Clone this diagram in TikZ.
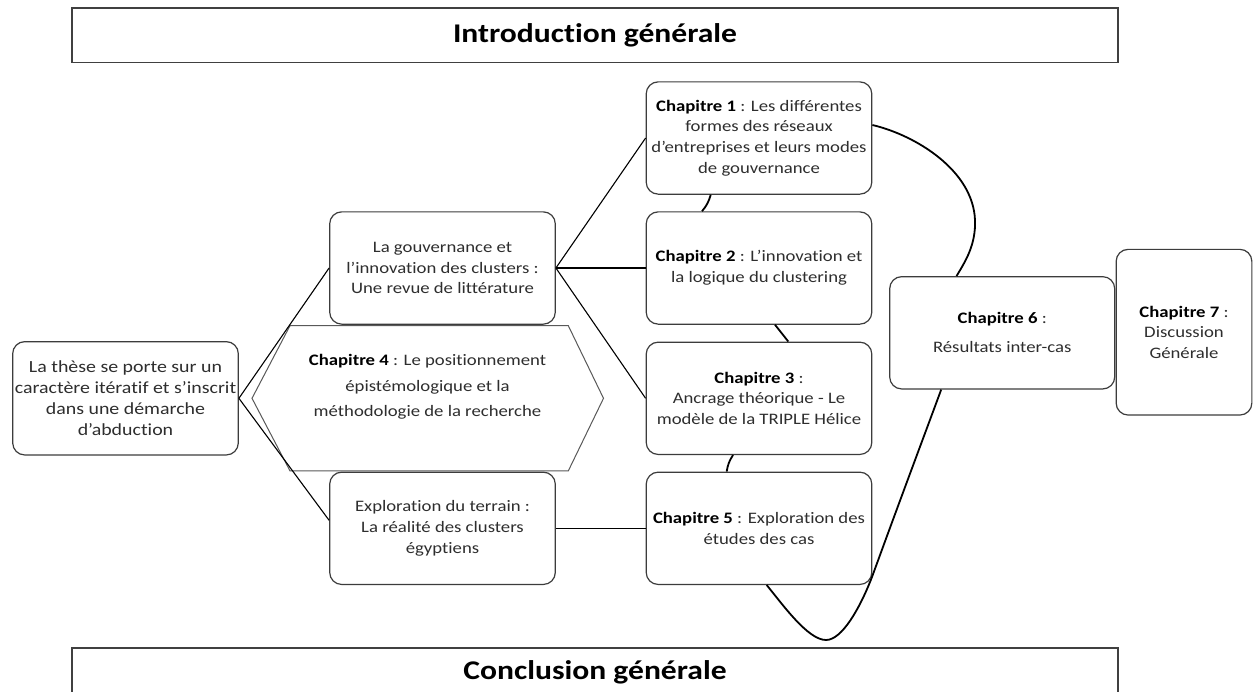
\documentclass[tikz,border=0pt]{standalone}
\usepackage{fontspec}
\setmainfont{Carlito}[FakeStretch=1.17, Ligatures=NoCommon]
\usetikzlibrary{calc}
\definecolor{tg}{HTML}{2E2E2E}
\definecolor{bd}{HTML}{3C3C3C}
\newcommand{\ChapB}[1]{\textcolor{black}{\textbf{Chapitre #1}}}
\begin{document}
\begin{tikzpicture}[x=1pt,y=-1pt,
  box/.style={draw=bd, line width=1.2pt, rounded corners=12pt, fill=white, inner sep=0pt,
    align=center, text=tg, font=\fontsize{16}{20.8}\selectfont,
    minimum width=225.6pt, minimum height=112.3pt},
  titlebox/.style={draw=black!75, line width=1.3pt, fill=white, inner sep=0pt,
    minimum width=1046pt, font=\bfseries\fontsize{27}{32}\selectfont},
  conn/.style={draw=black, line width=1.1pt},
  curve/.style={draw=black, line width=1.8pt},
  hexline/.style={draw=black!65, line width=1pt, fill=white}]
\useasboundingbox (0,0) rectangle (1253,691);
\fill[white] (0,0) rectangle (1253,691);

% title boxes
\node[titlebox, minimum height=54.7pt] (intro) at (595,35.4) {Introduction générale};
\node[titlebox, minimum height=48.5pt] (concl) at (595,672.3) {Conclusion générale};

% hexagon (chapter 4)
\coordinate (hL) at (252,398.3);
\coordinate (hTL) at (290,325.7);
\coordinate (hTR) at (568.3,325.7);
\coordinate (hR) at (603.5,398.3);
\coordinate (hBR) at (568.3,470.9);
\coordinate (hBL) at (290,470.9);
\draw[hexline] (hL) -- (hTL) -- (hTR) -- (hR) -- (hBR) -- (hBL) -- cycle;
\node[align=center, text=tg, font=\fontsize{16}{20.8}\selectfont] (ch4) at (427.5,387.2)
  {\ChapB{4} : Le positionnement\\[4.7pt]épistémologique et la\\[4.7pt]méthodologie de la recherche};

% boxes
\node[box, font=\fontsize{17}{21}\selectfont, minimum height=113.3pt] (these) at (125.5,398.3)
  {La thèse se porte sur un\\caractère itératif et s’inscrit\\dans une démarche\\d’abduction};
\node[box] (gouv) at (442.5,268) {La gouvernance et\\l’innovation des clusters :\\Une revue de littérature};
\node[box] (expl) at (442.5,528.3) {Exploration du terrain :\\La réalité des clusters\\égyptiens};
\node[box] (ch1) at (759,138) {\ChapB{1} : Les différentes\\formes des réseaux\\d’entreprises et leurs modes\\de gouvernance};
\node[box] (ch2) at (759,268) {\ChapB{2} : L’innovation et\\la logique du clustering};
\node[box] (ch3) at (759,398.3) {\ChapB{3} :\\Ancrage théorique - Le\\modèle de la TRIPLE Hélice};
\node[box] (ch5) at (759,528.3) {\ChapB{5} : Exploration des\\études des cas};
\node[box, minimum width=225pt] (ch6) at (1002.2,332.8) {\ChapB{6} :\\[8.2pt]Résultats inter-cas};
\node[box, minimum width=135.7pt, minimum height=165.7pt, font=\fontsize{16}{20.5}\selectfont] (ch7) at (1184,332.2)
  {\ChapB{7} :\\Discussion\\Générale};

% straight connectors
\draw[conn] (these.east) -- (gouv.west);
\draw[conn] (these.east) -- ($(expl.west)+(0,-8)$);
\draw[conn] (gouv.east) -- (ch1.west);
\draw[conn] (gouv.east) -- (ch2.west);
\draw[conn] (gouv.east) -- (ch3.west);
\draw[conn] (expl.east) -- (ch5.west);

% short curved links between chapters
\draw[curve] ($(ch1.south)+(-48.3,0)$) to[bend left=12] ($(ch2.north)+(-57,0)$);
\draw[curve] ($(ch2.south)+(16,0)$) -- ($(ch3.north)+(29.3,0)$);
\draw[curve] ($(ch3.south)+(-26,0)$) to[bend right=12] ($(ch5.north)+(-32.3,0)$);

% arc from chapter 1 to chapter 6
\coordinate (a1) at ($(ch1.east)+(0,-13)$);
\coordinate (a2) at ($(ch6.north)+(-45.7,0)$);
\draw[curve] (a1) .. controls (915,135) and (973,170) .. (975,220)
  .. controls (976,245) and (965,262) .. (a2);

% loop from chapter 5 to chapter 6
\coordinate (b1) at ($(ch5.south)+(7.7,0)$);
\coordinate (b2) at ($(ch6.south)+(-61,0)$);
\draw[curve] (b1) .. controls (783,605) and (808,640) .. (826,640)
  .. controls (842,640) and (860,608) .. (872,577)
  .. controls (900,500) and (930,420) .. (b2);
\end{tikzpicture}
\end{document}
